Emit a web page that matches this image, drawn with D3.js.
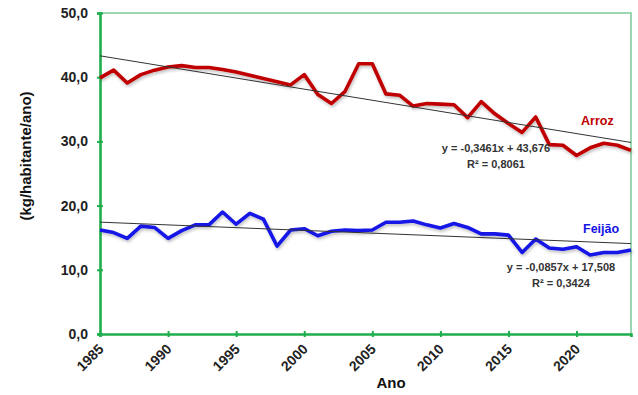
<!DOCTYPE html>
<html>
<head>
<meta charset="utf-8">
<script src="https://cdn.jsdelivr.net/npm/d3@7"></script>
<style>
  body { margin: 0; background: #fff; }
  svg { display: block; font-family: Arial, "Liberation Sans", sans-serif; }
</style>
</head>
<body>
<div id="chart"></div>
<script>
// consumo per capita (kg/habitante/ano), 1985-2024
const years = d3.range(1985, 2025);
const arroz = [39.9, 41.1, 39.1, 40.4, 41.1, 41.6, 41.8, 41.5, 41.5, 41.2,
               40.8, 40.3, 39.8, 39.3, 38.8, 40.4, 37.3, 35.9, 37.8, 42.1,
               42.1, 37.4, 37.2, 35.5, 35.9, 35.8, 35.7, 33.7, 36.2, 34.3,
               32.8, 31.4, 33.8, 29.5, 29.4, 27.8, 29.0, 29.7, 29.4, 28.6];
const feijao = [16.2, 15.8, 14.9, 16.8, 16.6, 14.9, 16.1, 17.0, 17.0, 19.0,
                17.1, 18.8, 17.9, 13.7, 16.2, 16.4, 15.3, 16.0, 16.2, 16.1,
                16.2, 17.4, 17.4, 17.6, 17.0, 16.5, 17.2, 16.6, 15.6, 15.6,
                15.4, 12.7, 14.8, 13.4, 13.2, 13.6, 12.3, 12.7, 12.7, 13.1];

const seriesNames = ["Arroz", "Feijão"];
const seriesColors = ["#c00000", "#1414e6"];
// linear trend (x = 1 for 1985)
const slopes = [-0.3461, -0.0857];
const intercepts = [43.676, 17.508];
const equations = ["y = -0,3461x + 43,676", "y = -0,0857x + 17,508"];
const r2Labels = ["R² = 0,8061", "R² = 0,3424"];

const yTicks = [0, 10, 20, 30, 40, 50];
const xTicks = [1985, 1990, 1995, 2000, 2005, 2010, 2015, 2020];

const width = 638, height = 395;
const margin = { top: 13, right: 7, bottom: 61, left: 100 };

const x = d3.scaleLinear().domain([1985, 2024]).range([margin.left, width - margin.right]);
const y = d3.scaleLinear().domain([0, 50]).range([height - margin.bottom, margin.top]);
const fmt = v => d3.format(".1f")(v).replace(".", ",");

const svg = d3.select("#chart").append("svg")
    .attr("width", width)
    .attr("height", height);

const defs = svg.append("defs");
defs.append("filter")
    .attr("id", "shadow")
    .attr("x", "-5%").attr("y", "-20%").attr("width", "110%").attr("height", "150%")
    .append("feDropShadow")
    .attr("dx", 1).attr("dy", 2).attr("stdDeviation", 1.5)
    .attr("flood-color", "#000").attr("flood-opacity", 0.25);

// top and right frame
svg.append("path")
    .attr("d", `M${x(1985)},${y(50)}H${x(2024)}V${y(0)}`)
    .attr("fill", "none")
    .attr("stroke", "#7cc99b")
    .attr("stroke-width", 1.5);

// axes
const axisColor = "#1fae4b";
const yAxis = svg.append("g")
    .attr("transform", `translate(${margin.left},0)`)
    .call(d3.axisLeft(y).tickValues(yTicks).tickFormat(fmt).tickSize(3).tickPadding(9));
const xAxis = svg.append("g")
    .attr("transform", `translate(0,${height - margin.bottom})`)
    .call(d3.axisBottom(x).tickValues(xTicks).tickFormat(d3.format("d")).tickSize(3));

[yAxis, xAxis].forEach(g => {
    g.select(".domain").attr("stroke", axisColor).attr("stroke-width", 2.6);
    g.selectAll(".tick line").attr("stroke", axisColor).attr("stroke-width", 2);
    g.selectAll("text")
        .attr("fill", "#222")
        .attr("font-size", 14)
        .attr("font-weight", "bold");
});
yAxis.selectAll(".tick line").attr("x1", 3);
xAxis.selectAll(".tick line").attr("y1", -3);

xAxis.selectAll(".tick text")
    .attr("text-anchor", "end")
    .attr("x", 0)
    .attr("y", 0)
    .attr("dy", null)
    .attr("transform", "translate(4,16) rotate(-45)");

svg.append("text")
    .attr("x", 391)
    .attr("y", 388)
    .attr("text-anchor", "middle")
    .attr("font-size", 15)
    .attr("font-weight", "bold")
    .attr("fill", "#111")
    .text("Ano");

svg.append("text")
    .attr("transform", "translate(31,156) rotate(-90)")
    .attr("text-anchor", "middle")
    .attr("font-size", 15)
    .attr("font-weight", "bold")
    .attr("fill", "#111")
    .text("(kg/habitante/ano)");

// data lines
const line = d3.line()
    .x((d, i) => x(years[i]))
    .y(d => y(d));

svg.selectAll(".serie")
    .data([arroz, feijao])
    .join("path")
    .attr("class", "serie")
    .attr("fill", "none")
    .attr("stroke", (d, i) => seriesColors[i])
    .attr("stroke-width", 3.6)
    .attr("stroke-linejoin", "round")
    .attr("filter", "url(#shadow)")
    .attr("d", line);

// trend lines
svg.selectAll(".trend")
    .data(slopes)
    .join("line")
    .attr("class", "trend")
    .attr("x1", x(1985))
    .attr("x2", x(2024))
    .attr("y1", (s, i) => y(intercepts[i] + s * 1))
    .attr("y2", (s, i) => y(intercepts[i] + s * years.length))
    .attr("stroke", "#333")
    .attr("stroke-width", 1);

// labels
const labelPos = [
    { nx: 581, ny: 125, ex: 496, ey: 152, ry: 168 },
    { nx: 583, ny: 233, ex: 561, ey: 271, ry: 287 }
];

labelPos.forEach((p, i) => {
    svg.append("text")
        .attr("x", p.nx).attr("y", p.ny)
        .attr("font-size", 12.5)
        .attr("font-weight", "bold")
        .attr("fill", seriesColors[i])
        .text(seriesNames[i]);
    svg.append("text")
        .attr("x", p.ex).attr("y", p.ey)
        .attr("text-anchor", "middle")
        .attr("font-size", 11)
        .attr("font-weight", "bold")
        .attr("fill", "#333")
        .text(equations[i]);
    svg.append("text")
        .attr("x", p.ex).attr("y", p.ry)
        .attr("text-anchor", "middle")
        .attr("font-size", 11)
        .attr("font-weight", "bold")
        .attr("fill", "#333")
        .text(r2Labels[i]);
});
</script>
</body>
</html>
